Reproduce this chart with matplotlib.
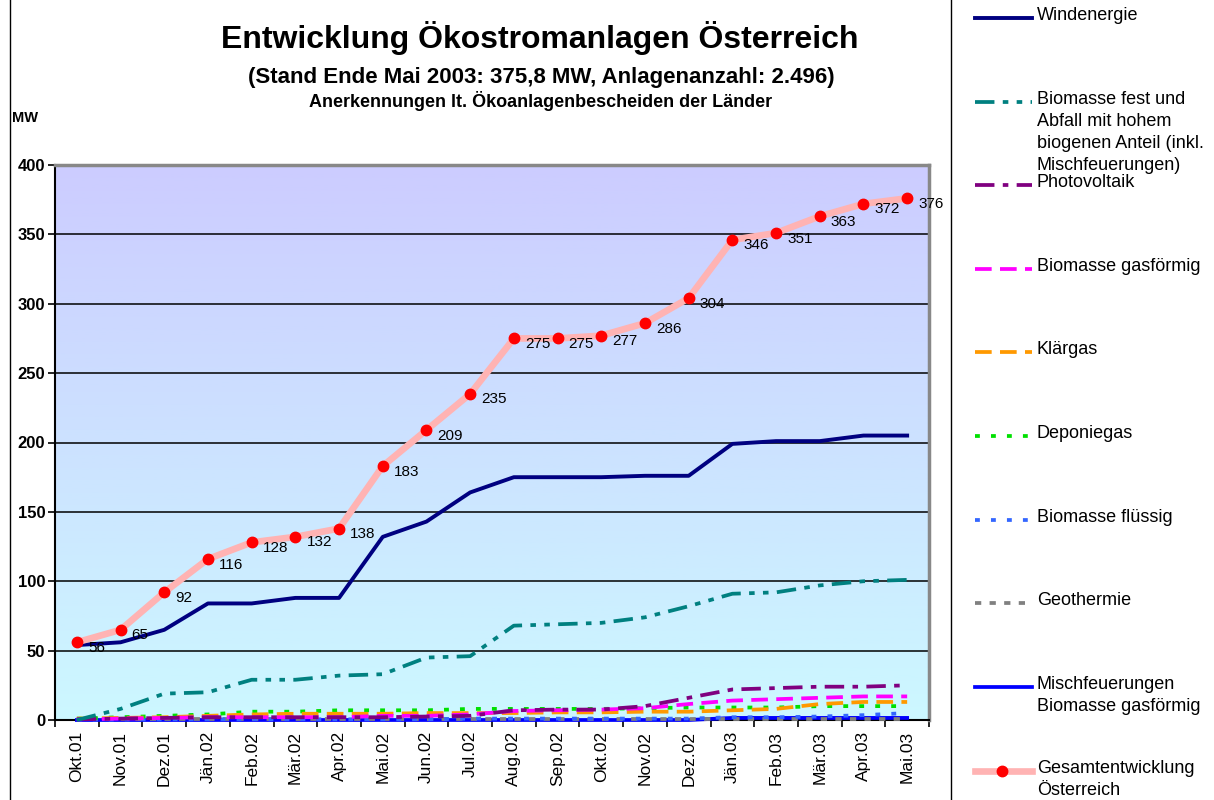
import numpy as np
import matplotlib.pyplot as plt
from matplotlib.colors import LinearSegmentedColormap
from matplotlib.lines import Line2D

plt.rcParams['font.family'] = ['Liberation Sans', 'DejaVu Sans']
plt.rcParams['lines.scale_dashes'] = False

# Monate
monate = ["Okt.01", "Nov.01", "Dez.01", "Jän.02", "Feb.02", "Mär.02", "Apr.02",
          "Mai.02", "Jun.02", "Jul.02", "Aug.02", "Sep.02", "Okt.02", "Nov.02",
          "Dez.02", "Jän.03", "Feb.03", "Mär.03", "Apr.03", "Mai.03"]

# MW je Technologie
wind = [54, 56, 65, 84, 84, 88, 88, 132, 143, 164, 175, 175, 175, 176, 176, 199, 201, 201, 205, 205]
biomasse_fest = [0, 8, 19, 20, 29, 29, 32, 33, 45, 46, 68, 69, 70, 74, 82, 91, 92, 97, 100, 101]
photovoltaik = [0.5, 1, 1.5, 2, 2, 2, 2, 2, 2.5, 3, 7, 7.5, 7.5, 10, 16, 22, 23, 24, 24, 25]
biomasse_gas = [0.5, 1, 1.5, 2, 2, 2, 2, 3, 3, 4, 6.5, 7, 7.5, 8.5, 11.5, 14, 15, 16, 17, 17]
klaergas = [1, 1.5, 2, 3, 4, 4.5, 4.5, 4.5, 5, 5, 5, 5.5, 5.5, 6, 6, 7, 8, 11.5, 13, 13]
deponiegas = [1, 2, 3, 4, 6, 6, 7, 7, 7, 8, 8, 8, 8, 8.5, 9, 9, 9, 10, 10, 10]
biomasse_fluessig = [0.3, 0.3, 0.5, 0.5, 0.5, 0.5, 0.5, 0.5, 0.5, 1, 1, 1, 1, 1, 1, 2, 2, 2.5, 3.5, 5]
geothermie = [1, 1, 1, 1, 1, 1, 1, 1, 1, 1, 1, 1, 1, 1, 1, 1, 1, 1, 1, 1]
mischfeuerung = [0, 0, 0, 0, 0, 0, 0, 0, 0, 0, 0, 0, 0, 0, 0, 1.5, 1.5, 1.5, 1.5, 1.5]
gesamt = [56, 65, 92, 116, 128, 132, 138, 183, 209, 235, 275, 275, 277, 286, 304, 346, 351, 363, 372, 376]

x = np.arange(len(monate))

fig = plt.figure(figsize=(12.14, 8), dpi=100)
ax = fig.add_axes([55 / 1214, 80 / 800, 874 / 1214, 555 / 800])

# Hintergrund-Verlauf
cmap = LinearSegmentedColormap.from_list("bg", ["#ccf8ff", "#ccccff"])
ax.imshow(np.linspace(0, 1, 256).reshape(-1, 1), cmap=cmap, origin="lower",
          extent=[-0.5, len(monate) - 0.5, 0, 400], aspect="auto", zorder=0)

for yv in range(50, 400, 50):
    ax.axhline(yv, color="black", lw=1.1, zorder=1)

styles = [
    ("Windenergie", wind, "#000080", "-", 2.8),
    ("Biomasse fest und\nAbfall mit hohem\nbiogenen Anteil (inkl.\nMischfeuerungen)", biomasse_fest, "#008080", (0, (14, 6, 4, 6, 4, 6)), 2.7),
    ("Photovoltaik", photovoltaik, "#800080", (0, (14, 6, 4, 6)), 2.7),
    ("Biomasse gasförmig", biomasse_gas, "#ff00ff", (0, (12, 6)), 2.7),
    ("Klärgas", klaergas, "#ff9900", (0, (12, 6)), 2.7),
    ("Deponiegas", deponiegas, "#00e000", (0, (3.5, 8)), 2.7),
    ("Biomasse flüssig", biomasse_fluessig, "#3366ff", (0, (3.5, 8)), 2.7),
    ("Geothermie", geothermie, "#808080", (0, (4.5, 6)), 2.7),
    ("Mischfeuerungen\nBiomasse gasförmig", mischfeuerung, "#0000ff", "-", 2.7),
]

for name, vals, col, ls, lw in styles[::-1]:
    ax.plot(x, vals, color=col, linestyle=ls, lw=lw, zorder=3, clip_on=False)

ax.plot(x, gesamt, color="#ffb3b3", lw=4.8, marker="o", markersize=7.5,
        markerfacecolor="red", markeredgecolor="red", zorder=5)
for xi, v in zip(x, gesamt):
    ax.annotate(f"{v}", (xi, v), xytext=(8, -4), textcoords="offset points",
                ha="left", va="center", fontsize=11, zorder=6)

ax.set_xlim(-0.5, len(monate) - 0.5)
ax.set_ylim(0, 400)
ax.set_yticks(range(0, 401, 50))
ax.set_yticklabels([str(v) for v in range(0, 401, 50)], fontweight="bold", fontsize=12)
ax.set_xticks(x)
ax.set_xticklabels(monate, rotation=90, fontsize=12.5)
ax.set_xticks(np.arange(-0.5, len(monate), 1), minor=True)
ax.tick_params(axis="x", which="major", length=0, pad=8)
ax.tick_params(axis="x", which="minor", length=5, width=1.2, direction="out")
ax.tick_params(axis="y", length=5, width=1.2, pad=2)
for s in ["left", "bottom"]:
    ax.spines[s].set_color("black")
    ax.spines[s].set_linewidth(1.5)
for s in ["top", "right"]:
    ax.spines[s].set_color("#888888")
    ax.spines[s].set_linewidth(2.5)

fig.text(12 / 1214, 1 - 118 / 800, "MW", fontsize=10.5, fontweight="bold", va="center")
fig.text(540 / 1214, 1 - 38 / 800, "Entwicklung Ökostromanlagen Österreich",
         fontsize=23, fontweight="bold", ha="center", va="center")
fig.text(541 / 1214, 1 - 77 / 800, "(Stand Ende Mai 2003: 375,8 MW, Anlagenanzahl: 2.496)",
         fontsize=16, fontweight="bold", ha="center", va="center")
fig.text(541 / 1214, 1 - 101 / 800, "Anerkennungen lt. Ökoanlagenbescheiden der Länder",
         fontsize=13, fontweight="bold", ha="center", va="center")

# Rahmenlinien
fig.add_artist(Line2D([10 / 1214, 10 / 1214], [0, 1], color="black", lw=1))
fig.add_artist(Line2D([951 / 1214, 951 / 1214], [0, 1], color="black", lw=1))

# Legende rechts
lax = fig.add_axes([951 / 1214, 0, 263 / 1214, 1])
lax.set_xlim(951, 1214)
lax.set_ylim(800, 0)
lax.axis("off")
ys = [18, 102, 185, 269, 352, 436, 520, 603, 687, 771]
for (name, vals, col, ls, lw), yy in zip(styles, ys):
    lax.plot([975, 1032], [yy, yy], color=col, linestyle=ls, lw=lw)
    lax.text(1037, yy - 11, name, fontsize=13, va="top", ha="left", linespacing=1.38)
lax.plot([975, 1032], [ys[-1], ys[-1]], color="#ffb3b3", lw=4.8)
lax.plot([1002], [ys[-1]], marker="o", markersize=7.5, color="red")
lax.text(1037, ys[-1] - 11, "Gesamtentwicklung\nÖsterreich", fontsize=13,
         va="top", ha="left", linespacing=1.38)

fig.savefig("out.png", dpi=100)
